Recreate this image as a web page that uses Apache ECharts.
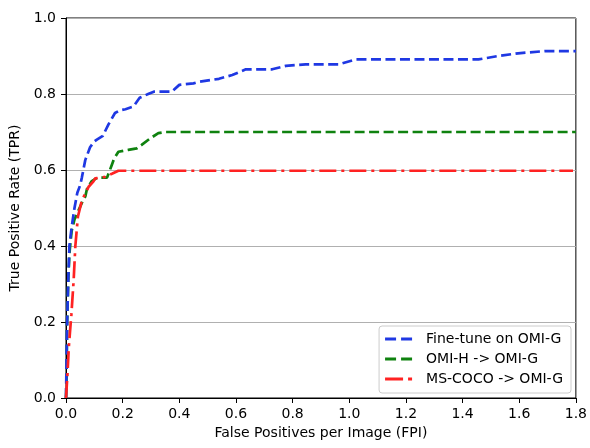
<!DOCTYPE html>
<html>
<head>
<meta charset="utf-8">
<script src="https://cdn.jsdelivr.net/npm/echarts@6/dist/echarts.min.js"></script>
<style>html,body{margin:0;padding:0;background:#fff;}#c{width:590px;height:448px;}</style>
</head>
<body>
<div id="c"></div>
<script>
var xTicks = [0.0, 0.2, 0.4, 0.6, 0.8, 1.0, 1.2, 1.4, 1.6, 1.8];
var yTicks = [0.0, 0.2, 0.4, 0.6, 0.8, 1.0];

var fineTuneFPI = [0, 0.002, 0.004, 0.008, 0.012, 0.02, 0.03, 0.04, 0.05, 0.056, 0.068, 0.085, 0.1, 0.109, 0.13, 0.15, 0.173, 0.19, 0.21, 0.238, 0.26, 0.29, 0.31, 0.373, 0.40, 0.45, 0.47, 0.54, 0.587, 0.635, 0.728, 0.776, 0.846, 0.963, 1.022, 1.456, 1.526, 1.596, 1.69, 1.8];
var fineTuneTPR = [0, 0.1, 0.2, 0.31, 0.4, 0.45, 0.5, 0.54, 0.56, 0.58, 0.626, 0.66, 0.675, 0.68, 0.69, 0.72, 0.75, 0.757, 0.76, 0.767, 0.79, 0.80, 0.806, 0.806, 0.824, 0.828, 0.832, 0.84, 0.85, 0.865, 0.865, 0.874, 0.878, 0.878, 0.891, 0.891, 0.90, 0.907, 0.913, 0.913];

var omiHFPI = [0, 0.002, 0.004, 0.008, 0.012, 0.02, 0.03, 0.045, 0.06, 0.068, 0.074, 0.09, 0.11, 0.145, 0.16, 0.17, 0.185, 0.22, 0.25, 0.267, 0.297, 0.326, 0.35, 1.8];
var omiHTPR = [0, 0.05, 0.2, 0.31, 0.38, 0.44, 0.47, 0.495, 0.52, 0.53, 0.55, 0.57, 0.58, 0.58, 0.61, 0.63, 0.648, 0.653, 0.657, 0.666, 0.683, 0.697, 0.70, 0.70];

var cocoFPI = [0, 0.005, 0.01, 0.019, 0.027, 0.033, 0.042, 0.056, 0.074, 0.08, 0.097, 0.103, 0.138, 0.162, 0.185, 1.79];
var cocoTPR = [0, 0.06, 0.135, 0.22, 0.31, 0.40, 0.477, 0.52, 0.547, 0.556, 0.57, 0.578, 0.582, 0.59, 0.598, 0.598];

var seriesNames = ['Fine-tune on OMI-G', 'OMI-H -> OMI-G', 'MS-COCO -> OMI-G'];

function pairs(xs, ys) { return xs.map(function (x, i) { return [x, ys[i]]; }); }

var font = 'DejaVu Sans';
var dashIcon = 'path://M0,0h11v3h-11z M16,0h11v3h-11z';
var dashDotIcon = 'path://M0,0h18v3h-18z M23,0h4v3h-4z';
var colors = ['#1f38e3', '#0f820f', '#ff2222'];

var chart = echarts.init(document.getElementById('c'), null, { renderer: 'canvas' });
chart.setOption({
  animation: false,
  backgroundColor: '#fff',
  textStyle: { fontFamily: font },
  grid: { left: 66, right: 12, top: 18, bottom: 50, show: true, borderColor: '#000', borderWidth: 1, backgroundColor: 'transparent' },
  legend: {
    orient: 'vertical', right: 19, bottom: 55,
    backgroundColor: 'rgba(255,255,255,0.85)', borderColor: '#cccccc', borderWidth: 1, borderRadius: 3,
    padding: [6, 8, 7, 6], itemGap: 6, itemWidth: 27, itemHeight: 3,
    textStyle: { fontFamily: font, fontSize: 14, color: '#000', padding: [0, 0, 0, 9] },
    data: [
      { name: seriesNames[0], icon: dashIcon, itemStyle: { color: colors[0] } },
      { name: seriesNames[1], icon: dashIcon, itemStyle: { color: colors[1] } },
      { name: seriesNames[2], icon: dashDotIcon, itemStyle: { color: colors[2] } }
    ]
  },
  xAxis: {
    type: 'value', min: 0, max: 1.8, interval: 0.2,
    name: 'False Positives per Image (FPI)', nameLocation: 'middle', nameGap: 28,
    nameTextStyle: { fontFamily: font, fontSize: 14, color: '#000' },
    axisLine: { show: true, lineStyle: { color: '#000', width: 1 } },
    axisTick: { show: true, inside: false, length: 5, lineStyle: { color: '#000' } },
    axisLabel: { margin: 9, fontFamily: font, fontSize: 14, color: '#000', formatter: function (v) { return v.toFixed(1); } },
    splitLine: { show: false }
  },
  yAxis: {
    type: 'value', min: 0, max: 1.0, interval: 0.2,
    name: 'True Positive Rate (TPR)', nameLocation: 'middle', nameGap: 37,
    nameTextStyle: { fontFamily: font, fontSize: 14, color: '#000' },
    axisLine: { show: true, lineStyle: { color: '#000', width: 1 } },
    axisTick: { show: true, inside: false, length: 5, lineStyle: { color: '#000' } },
    axisLabel: { margin: 10, fontFamily: font, fontSize: 14, color: '#000', formatter: function (v) { return v.toFixed(1); } },
    splitLine: { show: true, lineStyle: { color: '#b0b0b0', width: 1 } }
  },
  series: [
    { name: seriesNames[0], type: 'line', symbol: 'none', smooth: false, z: 3,
      data: pairs(fineTuneFPI, fineTuneTPR),
      itemStyle: { color: colors[0] },
      lineStyle: { color: colors[0], width: 2.7, type: [10, 4.5] } },
    { name: seriesNames[1], type: 'line', symbol: 'none', smooth: false, z: 2,
      data: pairs(omiHFPI, omiHTPR),
      itemStyle: { color: colors[1] },
      lineStyle: { color: colors[1], width: 2.7, type: [10, 4.5] } },
    { name: seriesNames[2], type: 'line', symbol: 'none', smooth: false, z: 4,
      data: pairs(cocoFPI, cocoTPR),
      itemStyle: { color: colors[2] },
      lineStyle: { color: colors[2], width: 2.7, type: [17, 5, 3, 5] } }
  ]
});
</script>
</body>
</html>
